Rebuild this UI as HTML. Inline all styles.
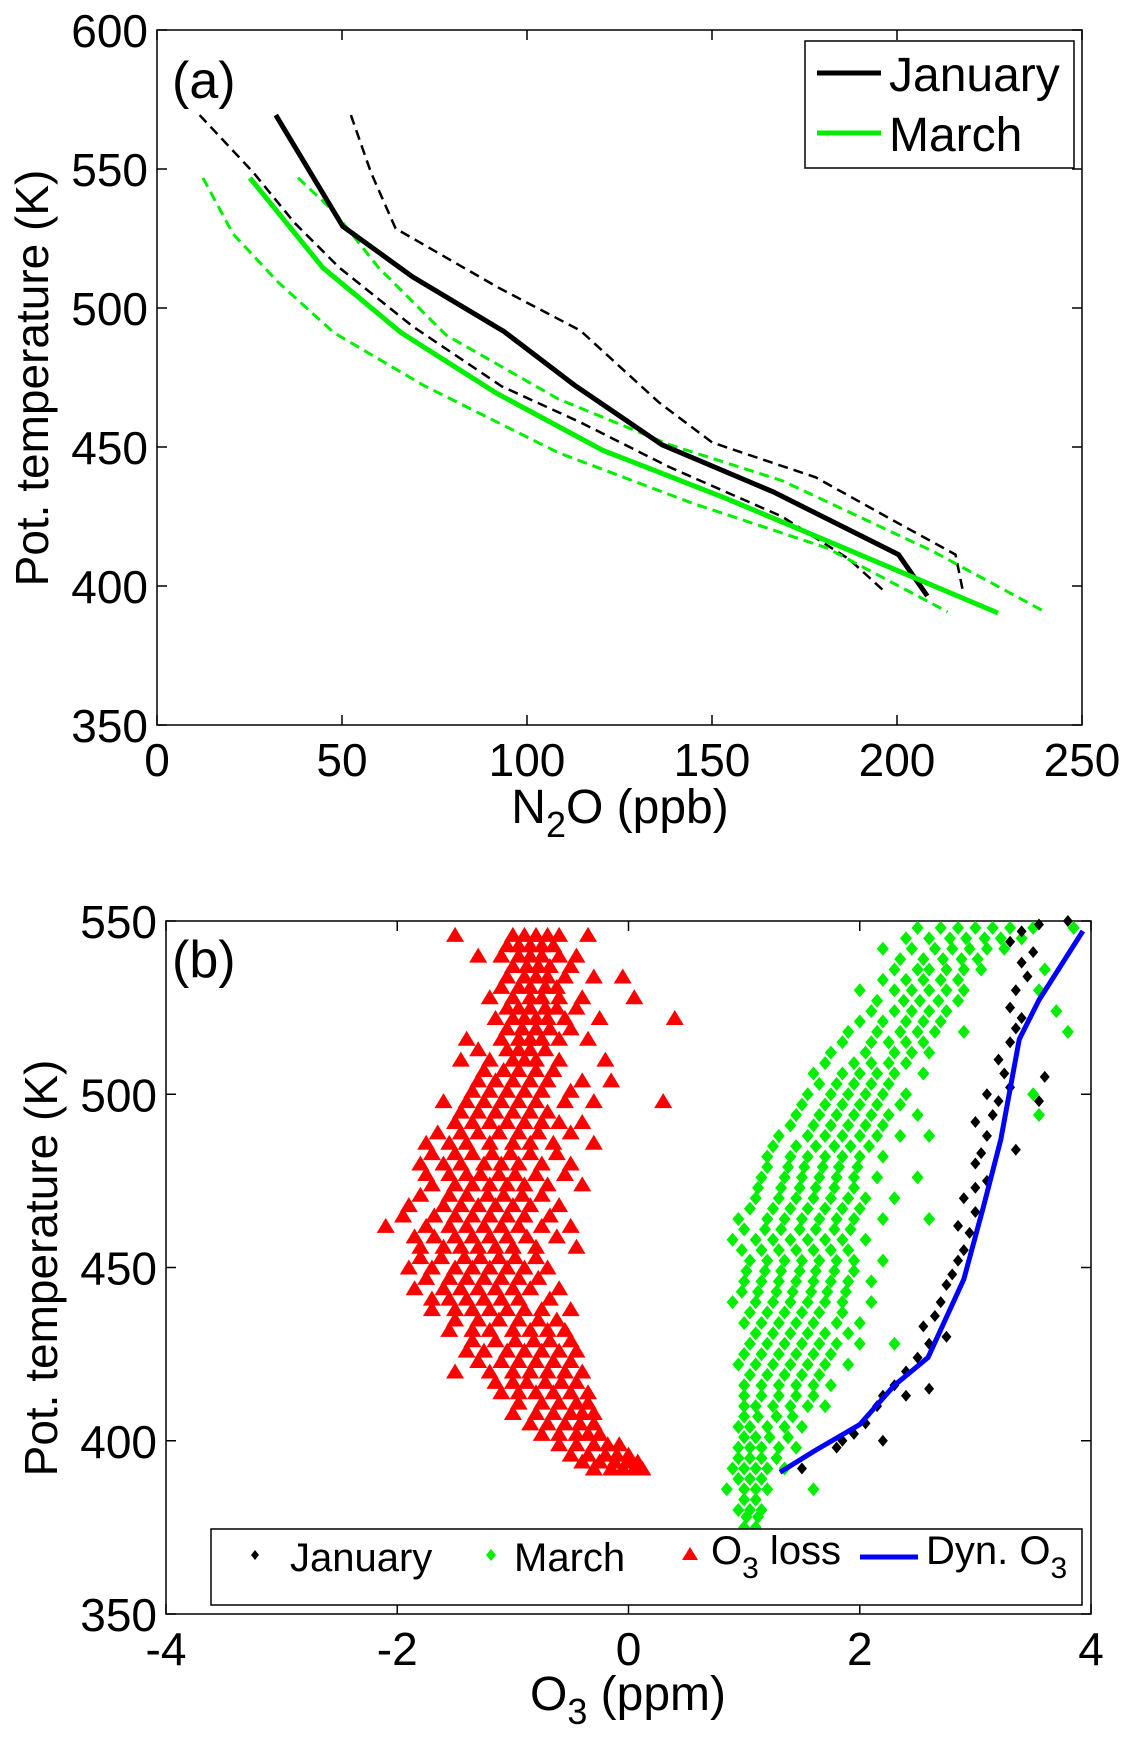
<!DOCTYPE html>
<html><head><meta charset="utf-8"><style>
body{margin:0;background:#fff}
svg text{font-family:"Liberation Sans",sans-serif;fill:#000}
</style></head><body>
<svg id="fig" width="1135" height="1754" xmlns="http://www.w3.org/2000/svg">
<g id="pa"></g>
<g id="pb"></g>
</svg>
<script>
// ---- Panel (a) data ----
const aXTicks=[0,50,100,150,200,250];
const aYTicks=[350,400,450,500,550,600];
const janMeanX=[32.1,50.2,69.0,93.8,112.9,136.5,166.5,200.4,208.2];
const janMeanY=[569.4,529.4,511.3,491.5,472.2,450.8,433.9,411.3,396.4];
const janLoX=[11.5,26,37.2,49.3,69,93.2,114.4,138.6,168.9,187,197];
const janLoY=[569.4,548.8,530.6,514.5,493.5,471.8,458.9,442.7,425,409.7,397.6];
const janHiX=[52.4,57.8,64.5,92.3,114.4,135.6,150.1,178,199.2,215.8,217.9];
const janHiY=[569.4,548.8,528.6,507.3,491.9,466.1,451.6,439.1,423.4,411.3,397.6];
const marMeanX=[25.1,44.8,66,91.7,120.5,153.8,187,227.3];
const marMeanY=[546.8,514.5,491.1,469.4,448.8,431.5,412.9,390.3];
const marLoX=[12.4,20.6,32.7,47.8,72,108.4,144.7,181,213.7];
const marLoY=[546.8,526.6,509.3,491.1,472.2,448,429.8,413.7,390.7];
const marHiX=[38.1,47.8,59.9,78.1,108.4,138.6,168.9,209.7,239.4];
const marHiY=[546.8,534.7,514.5,490.3,467.3,450.8,437.9,412.5,391.1];

// ---- Panel (b) data ----
const bXTicks=[-4,-2,0,2,4];
const bYTicks=[350,400,450,500,550];
const dynX=[1.31,1.62,2.0,2.3,2.59,2.9,3.07,3.22,3.38,3.55,3.93];
const dynY=[390.9,397.3,404.7,416,424,446.6,467.6,486.9,515.9,527.2,547.1];
const lossRows=[
[546,[-1.0,-0.9,-0.8,-0.7,-0.6,-1.5,-0.35]],
[543,[-1.05,-0.95,-0.85,-0.75,-0.65]],
[540,[-1.3,-1.1,-0.95,-0.85,-0.75,-0.6,-0.45]],
[537,[-1.0,-0.88,-0.78,-0.68,-0.5]],
[534,[-1.05,-0.9,-0.8,-0.7,-0.55,-0.3,-0.05]],
[531,[-1.1,-0.95,-0.85,-0.72,-0.62]],
[528,[-1.2,-1.0,-0.85,-0.75,-0.6,-0.4,0.05]],
[525,[-1.05,-0.95,-0.85,-0.72,-0.62,-0.45]],
[522,[-1.15,-1.0,-0.9,-0.8,-0.7,-0.55,-0.25,0.4]],
[519,[-1.05,-0.92,-0.8,-0.68,-0.5]],
[516,[-1.4,-1.1,-0.95,-0.85,-0.75,-0.6,-0.35]],
[513,[-1.3,-1.05,-0.95,-0.85,-0.72]],
[510,[-1.45,-1.2,-1.0,-0.9,-0.8,-0.6,-0.2]],
[507,[-1.25,-1.08,-0.95,-0.8,-0.65]],
[504,[-1.3,-1.15,-1.0,-0.85,-0.7,-0.4,-0.15]],
[501,[-1.35,-1.2,-1.05,-0.9,-0.75,-0.5]],
[498,[-1.6,-1.4,-1.25,-1.1,-0.95,-0.8,-0.55,0.3,-0.3]],
[495,[-1.45,-1.3,-1.15,-1.0,-0.85,-0.7]],
[492,[-1.5,-1.35,-1.2,-1.05,-0.9,-0.75,-0.6,-0.4]],
[489,[-1.65,-1.45,-1.3,-1.12,-0.95,-0.78,-0.5]],
[486,[-1.75,-1.55,-1.4,-1.2,-1.0,-0.85,-0.65,-0.3]],
[483,[-1.7,-1.5,-1.35,-1.18,-1.02,-0.85,-0.62]],
[480,[-1.8,-1.6,-1.45,-1.25,-1.1,-0.95,-0.75,-0.5]],
[477,[-1.75,-1.55,-1.4,-1.28,-1.12,-0.98,-0.8,-0.55]],
[474,[-1.7,-1.5,-1.35,-1.2,-1.05,-0.9,-0.7,-0.4]],
[471,[-1.8,-1.55,-1.4,-1.22,-1.08,-0.92,-0.75]],
[468,[-1.9,-1.6,-1.45,-1.3,-1.15,-1.0,-0.85,-0.6]],
[465,[-1.95,-1.68,-1.5,-1.35,-1.2,-1.05,-0.9,-0.68]],
[462,[-2.1,-1.75,-1.55,-1.4,-1.25,-1.1,-0.95,-0.75,-0.5]],
[459,[-1.85,-1.68,-1.5,-1.35,-1.2,-1.05,-0.88,-0.62]],
[456,[-1.8,-1.6,-1.45,-1.3,-1.15,-1.0,-0.8,-0.45]],
[453,[-1.8,-1.62,-1.42,-1.28,-1.12,-0.98,-0.8]],
[450,[-1.9,-1.7,-1.5,-1.35,-1.2,-1.05,-0.9,-0.7]],
[447,[-1.75,-1.55,-1.4,-1.25,-1.1,-0.95,-0.78]],
[444,[-1.85,-1.6,-1.45,-1.3,-1.15,-1.0,-0.85,-0.6]],
[441,[-1.7,-1.55,-1.4,-1.25,-1.1,-0.95,-0.68]],
[438,[-1.7,-1.5,-1.35,-1.2,-1.05,-0.9,-0.75,-0.5]],
[435,[-1.5,-1.3,-1.12,-0.95,-0.78,-0.62]],
[432,[-1.55,-1.35,-1.2,-1.0,-0.85,-0.7,-0.55]],
[429,[-1.35,-1.15,-0.98,-0.82,-0.68,-0.5]],
[426,[-1.4,-1.25,-1.05,-0.9,-0.75,-0.6,-0.45]],
[423,[-1.3,-1.1,-0.95,-0.8,-0.65,-0.5]],
[420,[-1.5,-1.2,-1.0,-0.85,-0.7,-0.55,-0.4]],
[417,[-1.15,-1.0,-0.88,-0.72,-0.58,-0.45]],
[414,[-1.1,-0.95,-0.8,-0.65,-0.5,-0.35]],
[411,[-0.95,-0.75,-0.6,-0.45,-0.35]],
[408,[-1.0,-0.8,-0.65,-0.5,-0.4,-0.3]],
[405,[-0.85,-0.7,-0.55,-0.42,-0.3]],
[402,[-0.75,-0.6,-0.45,-0.35,-0.25]],
[399,[-0.6,-0.45,-0.3,-0.18,-0.08]],
[396,[-0.5,-0.35,-0.2,-0.1,0.0]],
[394,[-0.4,-0.25,-0.12,0.0,0.08]],
[392,[-0.3,-0.15,-0.05,0.05,0.12]]];
const marchRows=[
[548,[2.5,2.7,2.85,3.0,3.15,3.3,3.5,3.85]],
[545,[2.4,2.6,2.78,2.92,3.08,3.22,3.4]],
[542,[2.2,2.45,2.65,2.8,2.95,3.1,3.25]],
[539,[2.35,2.55,2.72,2.88,3.02]],
[536,[2.3,2.5,2.6,2.75,2.9,3.05,3.6]],
[533,[2.2,2.4,2.55,2.7,2.85]],
[530,[2.0,2.3,2.45,2.6,2.75,2.9,3.55]],
[527,[2.15,2.38,2.52,2.68,2.85]],
[524,[2.1,2.3,2.45,2.6,2.75,3.7]],
[521,[2.0,2.2,2.4,2.55,2.7]],
[518,[1.9,2.15,2.35,2.5,2.65,2.9,3.8]],
[515,[1.85,2.1,2.25,2.4,2.55]],
[512,[1.75,2.05,2.3,2.45,2.6]],
[509,[1.7,1.95,2.1,2.25,2.4]],
[506,[1.6,1.85,2.0,2.15,2.3,2.55]],
[503,[1.65,1.8,1.95,2.1,2.25]],
[500,[1.55,1.75,1.9,2.05,2.2,2.4,3.5]],
[497,[1.5,1.7,1.85,2.0,2.15,2.35]],
[494,[1.45,1.65,1.8,1.95,2.1,2.25,2.5,3.55]],
[491,[1.4,1.6,1.75,1.9,2.05,2.2]],
[488,[1.3,1.55,1.7,1.85,2.0,2.15,2.35,2.6]],
[485,[1.25,1.45,1.62,1.78,1.92,2.08]],
[482,[1.2,1.4,1.55,1.7,1.85,2.0,2.2]],
[479,[1.2,1.38,1.52,1.68,1.82,1.98]],
[476,[1.15,1.35,1.5,1.65,1.8,1.95,2.15,2.5]],
[473,[1.12,1.32,1.48,1.62,1.78,1.95]],
[470,[1.1,1.3,1.45,1.6,1.75,1.9,2.05,2.3]],
[467,[1.05,1.25,1.4,1.55,1.7,1.85,2.0]],
[464,[0.95,1.2,1.35,1.5,1.65,1.8,1.95,2.2,2.6]],
[461,[1.0,1.18,1.32,1.48,1.62,1.78,1.92]],
[458,[0.9,1.1,1.25,1.4,1.55,1.7,1.85,2.05]],
[455,[0.98,1.15,1.3,1.45,1.6,1.75,1.9]],
[452,[1.05,1.2,1.35,1.5,1.65,1.8,1.95,2.2]],
[449,[1.02,1.18,1.32,1.48,1.62,1.78,1.95]],
[446,[1.0,1.15,1.3,1.45,1.6,1.75,1.9,2.1]],
[443,[0.98,1.12,1.28,1.42,1.58,1.72,1.88]],
[440,[0.9,1.1,1.25,1.4,1.55,1.7,1.85,2.1]],
[437,[1.05,1.2,1.35,1.5,1.65,1.85]],
[434,[1.0,1.15,1.3,1.45,1.6,1.8,2.0]],
[431,[1.1,1.25,1.4,1.55,1.7,1.9]],
[428,[1.05,1.2,1.35,1.5,1.65,1.8,2.0,2.3]],
[425,[1.0,1.15,1.3,1.45,1.6,1.75]],
[422,[0.95,1.1,1.25,1.4,1.55,1.7,1.9]],
[419,[1.05,1.2,1.35,1.5,1.65]],
[416,[1.0,1.15,1.3,1.45,1.6,1.75]],
[413,[1.0,1.15,1.3,1.45,1.6]],
[410,[1.0,1.1,1.25,1.4,1.55,1.7]],
[407,[1.0,1.12,1.28,1.42]],
[404,[0.95,1.05,1.2,1.35,1.5]],
[401,[1.0,1.1,1.22,1.38]],
[398,[0.95,1.05,1.15,1.3,1.45]],
[395,[0.95,1.05,1.15,1.28]],
[392,[0.9,1.0,1.1,1.2,1.35]],
[389,[0.95,1.05,1.15]],
[386,[0.85,1.0,1.1,1.2,1.6]],
[383,[1.0,1.1]],
[380,[0.95,1.05,1.15]],
[378,[1.02,1.12]],
[375,[1.0,1.1]]];
const janPtsX=[1.5,1.8,1.85,1.95,2.05,2.15,2.2,2.3,2.4,2.5,2.6,2.75,2.55,2.65,2.7,2.75,2.8,2.85,2.9,2.95,2.85,3.0,2.9,3.0,3.1,3.0,3.05,3.1,3.35,3.0,3.15,3.2,3.1,3.3,3.25,3.2,3.3,3.35,3.4,3.3,3.35,3.45,3.4,3.5,3.3,3.4,3.55,3.8,3.6,3.55,2.2,2.4,2.6];
const janPtsY=[392,398,400,402,405,410,413,416,420,424,428,430,433,436,440,445,448,452,455,460,462,466,470,473,475,480,483,488,484,492,494,498,500,502,506,510,515,519,522,525,530,534,538,541,544,547,549,550,505,498,400,413,415];

const NS='http://www.w3.org/2000/svg';
function mk(parent,tag,attrs){const e=document.createElementNS(NS,tag);for(const k in attrs)e.setAttribute(k,attrs[k]);parent.appendChild(e);return e;}
function axes(g,L,R,T,B,xmin,xmax,ymin,ymax,xt,yt,xname){
  const sx=v=>L+(v-xmin)/(xmax-xmin)*(R-L), sy=v=>B-(v-ymin)/(ymax-ymin)*(B-T);
  const box=mk(g,'rect',{x:L,y:T,width:R-L,height:B-T,fill:'none',stroke:'#000','stroke-width':1.5});
  
  
  xt.forEach(v=>{const x=sx(v);
    mk(g,'line',{x1:x,x2:x,y1:B,y2:B-10,stroke:'#000','stroke-width':1.5});
    mk(g,'line',{x1:x,x2:x,y1:T,y2:T+10,stroke:'#000','stroke-width':1.5});
    const t=mk(g,'text',{x:x,y:B+51,'font-size':46,'text-anchor':'middle'});t.textContent=v;
    
    });
  yt.forEach(v=>{const y=sy(v);
    mk(g,'line',{x1:L,x2:L+10,y1:y,y2:y,stroke:'#000','stroke-width':1.5});
    mk(g,'line',{x1:R,x2:R-10,y1:y,y2:y,stroke:'#000','stroke-width':1.5});
    const t=mk(g,'text',{x:L-9,y:y+17,'font-size':46,'text-anchor':'end'});t.textContent=v;
    
    });
  return {sx,sy};
}
function line(g,s,xs,ys,color,w,dash,name){
  const d=xs.map((x,i)=>(i?'L':'M')+s.sx(x).toFixed(1)+','+s.sy(ys[i]).toFixed(1)).join('');
  const p=mk(g,'path',{d:d,fill:'none',stroke:color,'stroke-width':w});
  if(dash)p.setAttribute('stroke-dasharray',dash);
  
  
}
// Panel a
const ga=document.getElementById('pa');
const sa=axes(ga,157,1082,30,725,0,250,350,600,aXTicks,aYTicks,'panel-a');
line(ga,sa,janLoX,janLoY,'#000',2.5,'10,6','january-lower-dashed');
line(ga,sa,janHiX,janHiY,'#000',2.5,'10,6','january-upper-dashed');
line(ga,sa,marLoX,marLoY,'#00ee00',3,'10,6','march-lower-dashed');
line(ga,sa,marHiX,marHiY,'#00ee00',3,'10,6','march-upper-dashed');
line(ga,sa,janMeanX,janMeanY,'#000',5,null,'january-mean-line');
line(ga,sa,marMeanX,marMeanY,'#00ee00',5,null,'march-mean-line');
// Panel b
const gb=document.getElementById('pb');
const sb=axes(gb,166,1091,921,1614,-4,4,350,550,bXTicks,bYTicks,'panel-b');
lossRows.forEach(r=>r[1].forEach(x=>{const cx=sb.sx(x),cy=sb.sy(r[0]);
  const p=mk(gb,'polygon',{points:`${cx-9},${cy+7} ${cx+9},${cy+7} ${cx},${cy-8}`,fill:'#ff0000'});
  
  }));
marchRows.forEach(r=>r[1].forEach(x=>{const cx=sb.sx(x),cy=sb.sy(r[0]);
  const p=mk(gb,'polygon',{points:`${cx},${cy-7} ${cx+6},${cy} ${cx},${cy+7} ${cx-6},${cy}`,fill:'#00ee00'});
  
  }));
janPtsX.forEach((x,i)=>{const cx=sb.sx(x),cy=sb.sy(janPtsY[i]);
  const p=mk(gb,'polygon',{points:`${cx},${cy-6} ${cx+5},${cy} ${cx},${cy+6} ${cx-5},${cy}`,fill:'#000'});
  
  });
line(gb,sb,dynX,dynY,'#0000ff',5,null,'dyn-o3-line');
</script>
<svg style="position:absolute;left:0;top:0" width="1135" height="1754" xmlns="http://www.w3.org/2000/svg">
<style>text{font-family:"Liberation Sans",sans-serif;fill:#000}</style>
<text x="172" y="98" font-size="52">(a)</text>
<text x="172" y="977" font-size="52">(b)</text>
<text transform="translate(48,378) rotate(-90)" text-anchor="middle" font-size="46">Pot. temperature (K)</text>
<text transform="translate(57,1268) rotate(-90)" text-anchor="middle" font-size="46">Pot. temperature (K)</text>
<text x="620" y="823" text-anchor="middle" font-size="48">N<tspan font-size="36" dy="14">2</tspan><tspan dy="-14">O (ppb)</tspan></text>
<text x="628" y="1710" text-anchor="middle" font-size="48">O<tspan font-size="36" dy="14">3</tspan><tspan dy="-14"> (ppm)</tspan></text>
<g>
<rect x="805" y="41" width="269" height="127" fill="#fff" stroke="#000" stroke-width="1.5"/>
<line x1="817" x2="881" y1="73" y2="73" stroke="#000" stroke-width="5"/>
<text x="889" y="91" font-size="48">January</text>
<line x1="817" x2="881" y1="133" y2="133" stroke="#00ee00" stroke-width="5"/>
<text x="889" y="151" font-size="48">March</text>
</g>
<g>
<rect x="211" y="1529" width="871" height="76" fill="#fff" stroke="#000" stroke-width="1.5"/>
<polygon points="255,1550 259,1555 255,1560 251,1555" fill="#000"/>
<text x="290" y="1571" font-size="40">January</text>
<polygon points="491,1549 496,1555 491,1561 486,1555" fill="#00ee00"/>
<text x="514" y="1571" font-size="40">March</text>
<polygon points="682,1560 698,1560 690,1547" fill="#ff0000"/>
<text x="711" y="1564" font-size="40">O<tspan font-size="30" dy="14">3</tspan><tspan dy="-14"> loss</tspan></text>
<line x1="860" x2="918" y1="1557" y2="1557" stroke="#0000ff" stroke-width="5"/>
<text x="926" y="1564" font-size="40">Dyn. O<tspan font-size="30" dy="14">3</tspan></text>
</g>
</svg>
</body></html>
